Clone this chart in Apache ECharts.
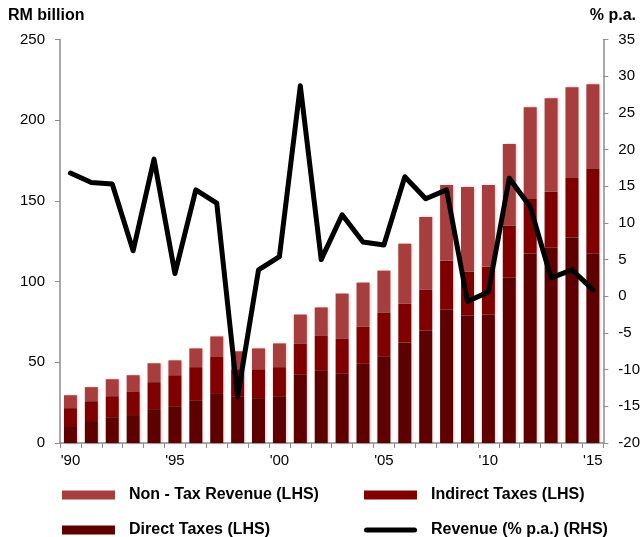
<!DOCTYPE html>
<html>
<head>
<meta charset="utf-8">
<script src="https://cdn.jsdelivr.net/npm/echarts@6/dist/echarts.min.js"></script>
<style>
  html, body { margin: 0; padding: 0; background: #fff; }
  #chart { width: 643px; height: 537px; }
</style>
</head>
<body>
<div id="chart"></div>
<script>
const years = [];
for (let y = 1990; y <= 2015; y++) years.push(String(y));

const directTaxes = [10.5, 13.6, 16, 17.3, 21, 22.8, 26.5, 30.9, 29, 27.8, 29, 42.6, 45, 43.2, 49.4, 53.7, 62.3, 69.7, 82.7, 79, 79.6, 102.5, 117.3, 121, 127.2, 117.3];
const indirectTaxes = [11.1, 12.3, 13, 14.7, 16.7, 19.2, 20.5, 22.8, 16.7, 17.9, 18, 19.1, 21.7, 21.6, 22.6, 27.2, 24.1, 25.3, 30.3, 27.2, 29.7, 32.1, 33.9, 34.6, 37, 52.5];
const nonTax = [8, 8.7, 10.5, 10, 11.7, 9.2, 11.6, 12.3, 11.1, 12.9, 14.7, 17.9, 17.3, 27.8, 27.4, 25.9, 37.1, 45, 46.9, 52.4, 50.6, 50.6, 56.8, 58, 56.2, 52.4];
const revenueGrowth = [16.8, 15.5, 15.3, 6.2, 18.7, 3.1, 14.5, 12.7, -13.7, 3.6, 5.4, 28.7, 5.0, 11.1, 7.4, 7.0, 16.3, 13.3, 14.5, -0.7, 0.6, 16.1, 12.2, 2.5, 3.6, 0.9];

const FONT = 'Liberation Sans, Arial, sans-serif';
const AXIS_GREY = '#8c8c8c';
const C_NONTAX = '#a83d3d';
const C_INDIRECT = '#800000';
const C_DIRECT = '#5e0000';

const chart = echarts.init(document.getElementById('chart'));

const barStyle = (color) => ({
  color: color,
  shadowColor: 'rgba(0,0,0,0.25)',
  shadowBlur: 3,
  shadowOffsetX: 1,
  shadowOffsetY: 0
});

const legendText = { fontFamily: FONT, fontSize: 16, fontWeight: 'bold', color: '#000', padding: [0, 0, 0, 9] };
const titleText = { fontFamily: FONT, fontSize: 16, fontWeight: 'bold', color: '#000' };

const option = {
  animation: false,
  textStyle: { fontFamily: FONT },
  grid: { left: 60, right: 39, top: 39.5, bottom: 94, containLabel: false },
  title: [
    { text: 'RM billion', left: 3, top: 3, textStyle: titleText },
    { text: '% p.a.', right: 2, top: 3, textStyle: titleText }
  ],
  legend: [
    { left: 57, top: 482, itemWidth: 53, itemHeight: 9, textStyle: legendText,
      data: [{ name: 'Non - Tax Revenue (LHS)', icon: 'rect' }] },
    { left: 359, top: 482, itemWidth: 53, itemHeight: 9, textStyle: legendText,
      data: [{ name: 'Indirect Taxes (LHS)', icon: 'rect' }] },
    { left: 57, top: 517, itemWidth: 53, itemHeight: 9, textStyle: legendText,
      data: [{ name: 'Direct Taxes (LHS)', icon: 'rect' }] },
    { left: 359, top: 517, itemWidth: 53, itemHeight: 5, textStyle: legendText,
      data: [{ name: 'Revenue (% p.a.) (RHS)', icon: 'path://M2.5,0 L50.5,0 A2.5,2.5 0 0 1 50.5,5 L2.5,5 A2.5,2.5 0 0 1 2.5,0 Z' }] }
  ],
  xAxis: {
    type: 'category',
    data: years,
    boundaryGap: true,
    axisLine: { lineStyle: { color: AXIS_GREY, width: 1.5 } },
    axisTick: { show: true, interval: 0, length: 5, lineStyle: { color: AXIS_GREY } },
    axisLabel: {
      interval: 4,
      margin: 10,
      fontSize: 15,
      color: '#000',
      fontFamily: FONT,
      formatter: (v) => "'" + v.slice(2)
    }
  },
  yAxis: [
    {
      type: 'value', min: 0, max: 250, interval: 50,
      axisLine: { show: true, lineStyle: { color: AXIS_GREY, width: 1.5 } },
      axisTick: { show: true, length: 5, lineStyle: { color: AXIS_GREY } },
      splitLine: { show: false },
      axisLabel: { fontSize: 15, color: '#000', fontFamily: FONT, margin: 15 }
    },
    {
      type: 'value', min: -20, max: 35, interval: 5,
      position: 'right',
      axisLine: { show: true, lineStyle: { color: AXIS_GREY, width: 1.5 } },
      axisTick: { show: true, length: 5, lineStyle: { color: AXIS_GREY } },
      splitLine: { show: false },
      axisLabel: { fontSize: 15, color: '#000', fontFamily: FONT, margin: 15 }
    }
  ],
  series: [
    { name: 'Direct Taxes (LHS)', type: 'bar', stack: 'rev', barWidth: 13, data: directTaxes, itemStyle: barStyle(C_DIRECT) },
    { name: 'Indirect Taxes (LHS)', type: 'bar', stack: 'rev', barWidth: 13, data: indirectTaxes, itemStyle: barStyle(C_INDIRECT) },
    { name: 'Non - Tax Revenue (LHS)', type: 'bar', stack: 'rev', barWidth: 13, data: nonTax, itemStyle: barStyle(C_NONTAX) },
    {
      name: 'Revenue (% p.a.) (RHS)', type: 'line', yAxisIndex: 1, data: revenueGrowth,
      symbol: 'none', lineStyle: { color: '#000', width: 5, join: 'round', cap: 'round' }, itemStyle: { color: '#000' }
    }
  ]
};

chart.setOption(option);
</script>
</body>
</html>
